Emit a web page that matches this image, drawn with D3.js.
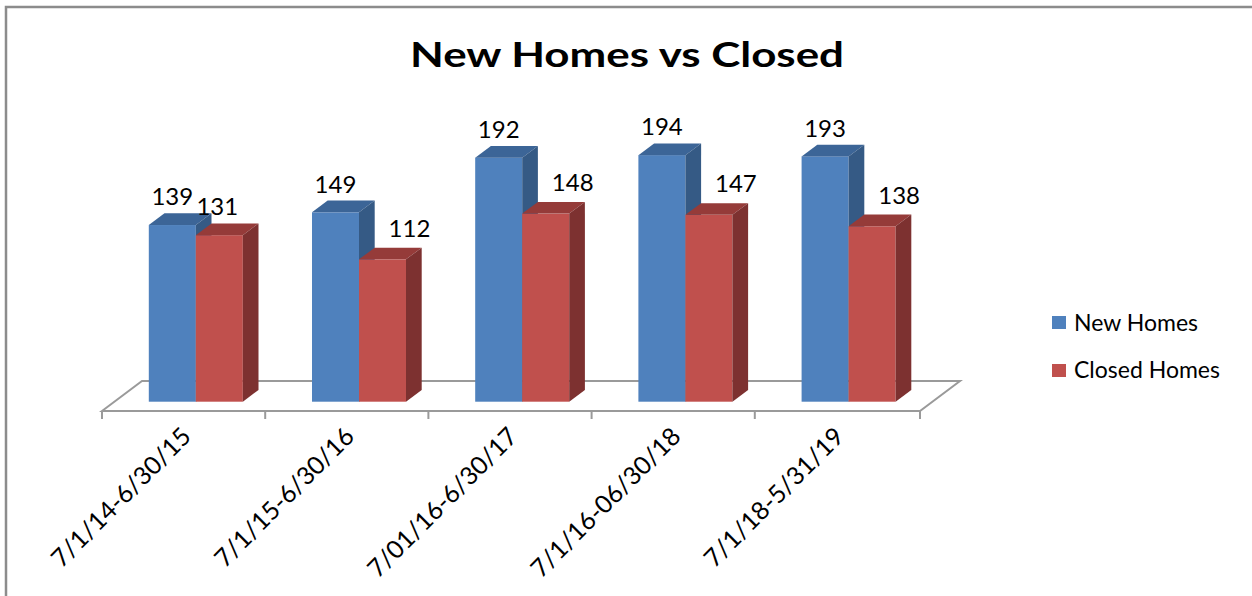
<!DOCTYPE html>
<html>
<head>
<meta charset="utf-8">
<script src="https://cdn.jsdelivr.net/npm/d3@7/dist/d3.min.js"></script>
<style>
  html, body { margin: 0; padding: 0; background: #fff; }
  svg { display: block; }
  text { font-family: Lato, "Open Sans", "Liberation Sans", sans-serif; fill: #000; }
</style>
</head>
<body>
<svg id="chart" width="1252" height="596"></svg>
<script>
// ---- data ----
const categories = ["7/1/14-6/30/15", "7/1/15-6/30/16", "7/01/16-6/30/17", "7/1/16-06/30/18", "7/1/18-5/31/19"];
const seriesNames = ["New Homes", "Closed Homes"];
const newHomes = [139, 149, 192, 194, 193];
const closedHomes = [131, 112, 148, 147, 138];
const title = "New Homes vs Closed";

// ---- styles ----
const colors = {
  "New Homes":    { front: "#4F81BD", top: "#3C6597", side: "#355A85" },
  "Closed Homes": { front: "#C0504D", top: "#953B39", side: "#7D3130" }
};

const svg = d3.select("#chart");
const W = 1252, H = 596;

// frame (left + top border)
svg.append("path")
  .attr("d", `M6,${H} L6,7 L${W},7`)
  .attr("fill", "none").attr("stroke", "#8c8c8c").attr("stroke-width", 2.5);

// title
svg.append("text")
  .attr("x", 627).attr("y", 67)
  .attr("text-anchor", "middle")
  .attr("font-size", 35).attr("font-weight", "bold")
  .attr("textLength", 434).attr("lengthAdjust", "spacingAndGlyphs")
  .text(title);

// ---- geometry ----
const floorY = 411;
const floorDX = 40, floorDY = -30;        // floor depth projection
const barDX = 15.7, barDY = -11.7;        // bar depth projection
const barOffX = 12.2, barOffY = -9.3;     // bar front offset inside floor depth

const x0 = d3.scaleBand().domain(categories).range([102, 918]).paddingInner(0).paddingOuter(0);
const x1 = d3.scaleBand().domain(seriesNames).range([0, x0.bandwidth()]).paddingInner(0).paddingOuter(0.736);
const y = d3.scaleLinear().domain([0, 200]).range([floorY + barOffY, floorY + barOffY - 254.2]);

// floor
const fx0 = x0.range()[0], fx1 = x0.range()[1];
svg.append("path")
  .attr("d", `M${fx0},${floorY} L${fx0 + floorDX},${floorY + floorDY} L${fx1 + floorDX + 2},${floorY + floorDY} L${fx1 + 2},${floorY} Z`)
  .attr("fill", "#fff").attr("stroke", "#9a9a9a").attr("stroke-width", 2);

// category axis: front line + ticks
const tickXs = categories.map(c => x0(c)).concat([fx1 + 2]);
svg.append("g").selectAll("line").data(tickXs).join("line")
  .attr("x1", d => d).attr("x2", d => d)
  .attr("y1", floorY).attr("y2", floorY + 8)
  .attr("stroke", "#9a9a9a").attr("stroke-width", 2);

// bars
const rows = categories.map((c, i) => ({
  cat: c,
  vals: [
    { s: "New Homes", v: newHomes[i], other: closedHomes[i] },
    { s: "Closed Homes", v: closedHomes[i], other: newHomes[i] }
  ]
}));

const gBars = svg.append("g");
rows.forEach(r => {
  r.vals.forEach(d => {
    const xl = x0(r.cat) + x1(d.s) + barOffX;
    const w = x1.bandwidth();
    const yt = y(d.v), yb = y(0);
    const c = colors[d.s];
    const g = gBars.append("g");
    g.append("rect").attr("x", xl).attr("y", yt).attr("width", w).attr("height", yb - yt).attr("fill", c.front);
    g.append("path")
      .attr("d", `M${xl},${yt} L${xl + barDX},${yt + barDY} L${xl + w + barDX},${yt + barDY} L${xl + w},${yt} Z`)
      .attr("fill", c.top);
    g.append("path")
      .attr("d", `M${xl + w},${yt} L${xl + w + barDX},${yt + barDY} L${xl + w + barDX},${yb + barDY} L${xl + w},${yb} Z`)
      .attr("fill", c.side);
    // data label
    const blocked = d.s === "Closed Homes" && d.other - d.v > 10;
    svg.append("text")
      .attr("x", xl + w / 2 + (blocked ? 27 : (d.s === "Closed Homes" ? -2 : 0)))
      .attr("y", yt + barDY - (blocked ? 11 : 8))
      .attr("text-anchor", "middle")
      .attr("font-size", 24)
      .text(d.v);
  });
});

// category labels (rotated)
svg.append("g").selectAll("text").data(categories).join("text")
  .attr("transform", d => `translate(${x0(d) + x0.bandwidth() / 2 + 9},${floorY + 27}) rotate(-45)`)
  .attr("text-anchor", "end")
  .attr("font-size", 25)
  .text(d => d);

// legend
const legend = svg.append("g");
seriesNames.forEach((s, i) => {
  legend.append("rect").attr("x", 1052).attr("y", 316 + i * 48).attr("width", 14).attr("height", 13).attr("fill", colors[s].front);
  legend.append("text").attr("x", 1074).attr("y", 331 + i * 47).attr("font-size", 23).text(s);
});
</script>
</body>
</html>
